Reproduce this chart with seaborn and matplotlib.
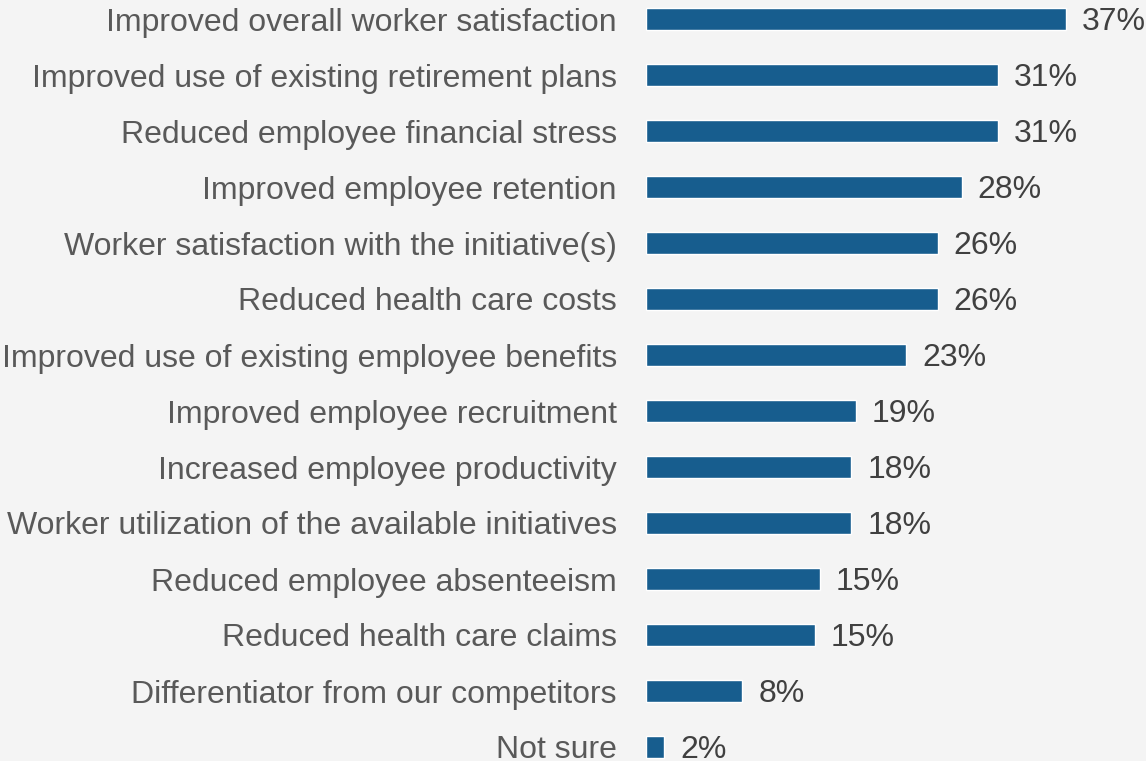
import matplotlib
matplotlib.use("Agg")
import matplotlib.pyplot as plt
import seaborn as sns
import pandas as pd

categories = [
    "Improved overall worker satisfaction",
    "Improved use of existing retirement plans",
    "Reduced employee financial stress",
    "Improved employee retention",
    "Worker satisfaction with the initiative(s)",
    "Reduced health care costs",
    "Improved use of existing employee benefits",
    "Improved employee recruitment",
    "Increased employee productivity",
    "Worker utilization of the available initiatives",
    "Reduced employee absenteeism",
    "Reduced health care claims",
    "Differentiator from our competitors",
    "Not sure",
]
values = [37.0, 31.0, 31.0, 27.8, 25.7, 25.7, 22.9, 18.5, 18.1, 18.1, 15.3, 14.9, 8.5, 1.6]
labels = ["37%", "31%", "31%", "28%", "26%", "26%", "23%", "19%", "18%", "18%", "15%", "15%", "8%", "2%"]

df = pd.DataFrame({"category": categories, "value": values})

bg = "#f4f4f4"
bar_color = "#175d8e"

sns.set_theme(style="white")
plt.rcParams["font.family"] = ["Liberation Sans", "DejaVu Sans"]

W, H = 1146, 761
fig = plt.figure(figsize=(W / 100, H / 100), dpi=100, facecolor=bg)
ax = fig.add_axes([646 / W, 0, 500 / W, 1])
ax.set_facecolor(bg)

sns.barplot(data=df, x="value", y="category", color=bar_color, width=0.41,
            saturation=1, orient="h", ax=ax)

ax.set_xlim(0, 500 / 11.35)
ax.set_ylim(13 + (761 - 747) / 56, -19 / 56)

texts = ax.bar_label(ax.containers[0], labels=labels, padding=11.5, fontsize=23, color="#404040")
for t in texts:
    t.set_va("center_baseline")

ax.set_xlabel("")
ax.set_ylabel("")
ax.set_xticks([])
ax.tick_params(axis="y", length=0, pad=21, labelsize=23, labelcolor="#595959")
for s in ax.spines.values():
    s.set_visible(False)

fig.savefig("out.png", dpi=100, facecolor=bg)
